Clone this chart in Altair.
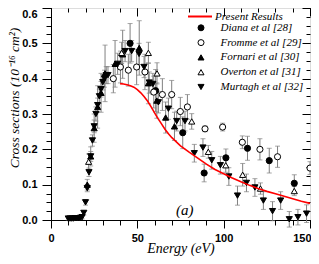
import altair as alt
import pandas as pd

# ---------------- data ----------------
model_E = [40, 42, 44, 46, 48, 50, 52, 54, 56, 58, 60, 62, 64, 66, 68, 70, 75, 80, 85, 90,
           95, 100, 105, 110, 115, 120, 125, 130, 135, 140, 145, 150]
model_Y = [0.386, 0.385, 0.383, 0.380, 0.376, 0.369, 0.360, 0.349, 0.336, 0.320, 0.303, 0.287,
           0.272, 0.257, 0.244, 0.233, 0.210, 0.192, 0.175, 0.158, 0.143, 0.131, 0.119, 0.108,
           0.098, 0.089, 0.081, 0.074, 0.067, 0.060, 0.053, 0.047]

diana_E = [45.8, 60.6, 76.3, 88.7, 101.3, 113.8, 126.4, 140.9]
diana_Y = [0.500, 0.366, 0.247, 0.133, 0.176, 0.203, 0.168, 0.104]
diana_err = [0.056, 0.06, 0.045, 0.025, 0.025, 0.034, 0.035, 0.024]

fromme_E = [36.1, 40.2, 44.8, 49.6, 54.4, 59.5, 64.5, 69.9, 74.9, 79.0, 89.2, 99.4, 110.8, 121.0, 131.2, 150.0]
fromme_Y = [0.400, 0.433, 0.424, 0.433, 0.419, 0.362, 0.355, 0.355, 0.307, 0.320, 0.258, 0.263, 0.220, 0.200, 0.179, 0.147]
fromme_err = [0.04, 0.045, 0.045, 0.05, 0.05, 0.045, 0.045, 0.04, 0.04, 0.035, 0.008, 0.011, 0.018, 0.03, 0.03, 0.018]

fornari_E = [21.0, 23.0, 25.0, 27.0, 29.0, 31.3, 37.1, 41.5, 51.1, 56.4, 61.3, 66.4, 71.5]
fornari_Y = [0.100, 0.180, 0.260, 0.320, 0.360, 0.415, 0.442, 0.469, 0.487, 0.387, 0.338, 0.290, 0.265]
fornari_err = [0.015, 0.027, 0.04, 0.06, 0.055, 0.08, 0.066, 0.068, 0.077, 0.058, 0.05, 0.044, 0.04]

overton_E = [21.8, 40.9, 56.4, 61.4, 81.5, 91.1, 101.2, 111.0, 121.3, 140.9]
overton_Y = [0.165, 0.473, 0.473, 0.415, 0.279, 0.193, 0.155, 0.128, 0.089, 0.082]
overton_err = [0.022, 0.03, 0.03, 0.03, 0.022, 0.018, 0.02, 0.032, 0.016, 0.013]

murtagh_E = [10, 11, 12, 13, 14, 15, 16, 17, 18, 19, 20, 21, 22, 23, 24, 25, 26, 27, 28, 29, 30,
             31, 32, 33, 38.6, 42.9, 46.7, 51.0, 53.9, 56.9, 59.0, 62.2, 68.0, 72.8, 77.6, 83.0,
             88.0, 93.1, 98.1, 103.0, 108.0, 113.2, 118.1, 123.0, 128.3, 133.0, 138.0, 143.0, 148.0]
murtagh_Y = [0.004, 0.004, 0.004, 0.004, 0.005, 0.005, 0.005, 0.006, 0.008, 0.020, 0.050, 0.090,
             0.135, 0.180, 0.225, 0.265, 0.300, 0.325, 0.350, 0.370, 0.390, 0.400, 0.410, 0.410,
             0.442, 0.478, 0.478, 0.470, 0.433, 0.389, 0.385, 0.333, 0.315, 0.280, 0.280, 0.189,
             0.205, 0.169, 0.155, 0.123, 0.069, 0.105, 0.092, 0.055, 0.025, 0.055, 0.002, 0.008, 0.018]
murtagh_err = [0.004, 0.004, 0.004, 0.004, 0.004, 0.004, 0.004, 0.004, 0.005, 0.006, 0.008, 0.01,
               0.012, 0.014, 0.016, 0.018, 0.02, 0.02, 0.02, 0.022, 0.022, 0.024, 0.024, 0.024,
               0.03, 0.03, 0.03, 0.03, 0.03, 0.03, 0.03, 0.03, 0.03, 0.028, 0.028, 0.025,
               0.025, 0.025, 0.025, 0.025, 0.027, 0.025, 0.025, 0.025, 0.027, 0.025, 0.022, 0.022, 0.025]

series_names = ["Diana et al [28]", "Fromme et al [29]", "Fornari et al [30]",
                "Overton et al [31]", "Murtagh et al [32]"]
series_shapes = ["circle", "circle", "triangle-up", "triangle-up", "triangle-down"]
series_fills = ["black", "white", "black", "white", "black"]
model_name = ["Present Results"]

x_major = [0, 50, 100, 150]
x_minor = [0, 10, 20, 30, 40, 50, 60, 70, 80, 90, 100, 110, 120, 130, 140, 150]
y_major = [0.0, 0.1, 0.2, 0.3, 0.4, 0.5, 0.6]
y_minor = [0.0, 0.025, 0.05, 0.075, 0.1, 0.125, 0.15, 0.175, 0.2, 0.225, 0.25, 0.275, 0.3,
           0.325, 0.35, 0.375, 0.4, 0.425, 0.45, 0.475, 0.5, 0.525, 0.55, 0.575, 0.6]

annot_E = [77.5]
annot_Y = [0.028]
annot_T = ["(a)"]

# ---------------- tables ----------------
rows = []
for name, E, Y, ER in [(series_names[0], diana_E, diana_Y, diana_err),
                       (series_names[1], fromme_E, fromme_Y, fromme_err),
                       (series_names[2], fornari_E, fornari_Y, fornari_err),
                       (series_names[3], overton_E, overton_Y, overton_err),
                       (series_names[4], murtagh_E, murtagh_Y, murtagh_err)]:
    for e, y, er in zip(E, Y, ER):
        rows.append({"series": name, "E": e, "y": y, "lo": y - er, "hi": y + er})
pts = pd.DataFrame(rows)
line_df = pd.DataFrame({"E": model_E, "y": model_Y, "model": model_name[0]})
annot_df = pd.DataFrame({"E": annot_E, "y": annot_Y, "t": annot_T})

W, H = 259, 212
SANS = "Liberation Sans"
SERIF = "Liberation Serif"

xs = alt.Scale(domain=[0, 150], nice=False, zero=False)
ys = alt.Scale(domain=[0, 0.6], nice=False, zero=False)


def plain_axis(**kw):
    d = dict(grid=False, labels=False, title=None, domain=False, ticks=True,
             tickColor="black", tickWidth=1)
    d.update(kw)
    return alt.Axis(**d)


lab = dict(labelFont=SANS, labelFontWeight="bold", labelFontSize=11, labelColor="black")

x_main = alt.Axis(orient="bottom", values=x_major, tickSize=8, tickColor="black", grid=False,
                  domain=True, domainColor="black", labelPadding=4, labelFlush=False,
                  labelExpr="datum.value > 140 ? '' : datum.label",
                  title="Energy (eV)", titleFont=SERIF, titleFontStyle="italic",
                  titleFontWeight="normal", titleFontSize=14, titleColor="black",
                  titleY=32.5, titleBaseline="alphabetic", **lab)
y_main = alt.Axis(orient="left", values=y_major, format=".1f",
                  labelExpr="datum.value > 0.55 ? '' : datum.label",
                  tickSize=9, tickColor="black", grid=False, domain=True, domainColor="black",
                  labelPadding=5, labelFlush=False,
                  title="Cross sections (10⁻¹⁶ cm²)", titleFont=SERIF, titleFontStyle="italic",
                  titleFontWeight="normal", titleFontSize=13.5, titleColor="black",
                  titleAngle=270, titleX=-32.5, titleY=89.5, titleBaseline="alphabetic",
                  titleAlign="center", **lab)
x_min = plain_axis(orient="bottom", values=x_minor, tickSize=5, labels=True,
                   labelExpr="datum.value > 149 ? '150' : ''", labelAlign="right",
                   labelOffset=1, labelPadding=7, labelFlush=False, **lab)
y_min = plain_axis(orient="left", values=y_minor, tickSize=5, labels=True,
                   labelExpr="datum.value > 0.59 ? '0.6' : ''", labelFlush=True,
                   labelFlushOffset=0, labelPadding=9, **lab)
x_top = plain_axis(orient="bottom", offset=-H, values=x_major, tickSize=8)
y_right = plain_axis(orient="left", offset=-W, values=y_major, tickSize=8)
x_top_min = plain_axis(orient="bottom", offset=-H, values=x_minor, tickSize=4)
y_right_min = plain_axis(orient="left", offset=-W, values=y_minor, tickSize=4)

base = alt.Chart(pts)

bars = base.mark_rule(color="#808080", strokeWidth=1).encode(
    x=alt.X("E:Q", scale=xs, axis=x_main),
    y=alt.Y("lo:Q", scale=ys, axis=y_main),
    y2="hi:Q",
)
caps_lo = base.mark_tick(orient="horizontal", size=5, thickness=1, color="#808080").encode(
    x=alt.X("E:Q", scale=xs, axis=x_min),
    y=alt.Y("lo:Q", scale=ys, axis=y_min),
)
caps_hi = base.mark_tick(orient="horizontal", size=5, thickness=1, color="#808080").encode(
    x=alt.X("E:Q", scale=xs, axis=x_top),
    y=alt.Y("hi:Q", scale=ys, axis=y_right),
)

leg_common = dict(title=None, orient="none", labelFont=SERIF, labelFontStyle="italic",
                  labelFontSize=11, labelColor="black", padding=0)
pt_legend = alt.Legend(legendX=144.5, legendY=14.3, symbolSize=36, symbolStrokeWidth=1,
                       rowPadding=2.8, labelOffset=14, **leg_common)

points = base.mark_point(size=38, strokeWidth=1, opacity=1).encode(
    x=alt.X("E:Q", scale=xs, axis=x_top_min),
    y=alt.Y("y:Q", scale=ys, axis=y_right_min),
    shape=alt.Shape("series:N", scale=alt.Scale(domain=series_names, range=series_shapes), legend=pt_legend),
    fill=alt.Fill("series:N", scale=alt.Scale(domain=series_names, range=series_fills), legend=pt_legend),
    stroke=alt.Stroke("series:N", scale=alt.Scale(domain=series_names, range=["black"] * 5), legend=pt_legend),
)

line = alt.Chart(line_df).mark_line(strokeWidth=1.6).encode(
    x=alt.X("E:Q", scale=xs, axis=None),
    y=alt.Y("y:Q", scale=ys, axis=None),
    color=alt.Color("model:N", scale=alt.Scale(domain=model_name, range=["#ff0000"]),
                    legend=alt.Legend(legendX=136, legendY=-4.5, symbolType="stroke",
                                      symbolSize=576, symbolStrokeWidth=2, labelOffset=2,
                                      **leg_common)),
)

annot = alt.Chart(annot_df).mark_text(font=SERIF, fontStyle="italic", fontSize=15,
                                      color="black").encode(
    x=alt.X("E:Q", scale=xs, axis=None),
    y=alt.Y("y:Q", scale=ys, axis=None),
    text="t:N",
)

chart = alt.layer(bars, caps_lo, caps_hi, points, line, annot).resolve_axis(
    x="independent", y="independent"
).properties(
    width=W, height=H,
    padding={"left": 43, "top": 0, "right": 1, "bottom": 36},
    autosize=alt.AutoSizeParams(type="none"),
).configure_view(stroke="black", strokeWidth=1).configure(background="white")

chart.save("out.html", embed_options={"renderer": "svg", "actions": False})
